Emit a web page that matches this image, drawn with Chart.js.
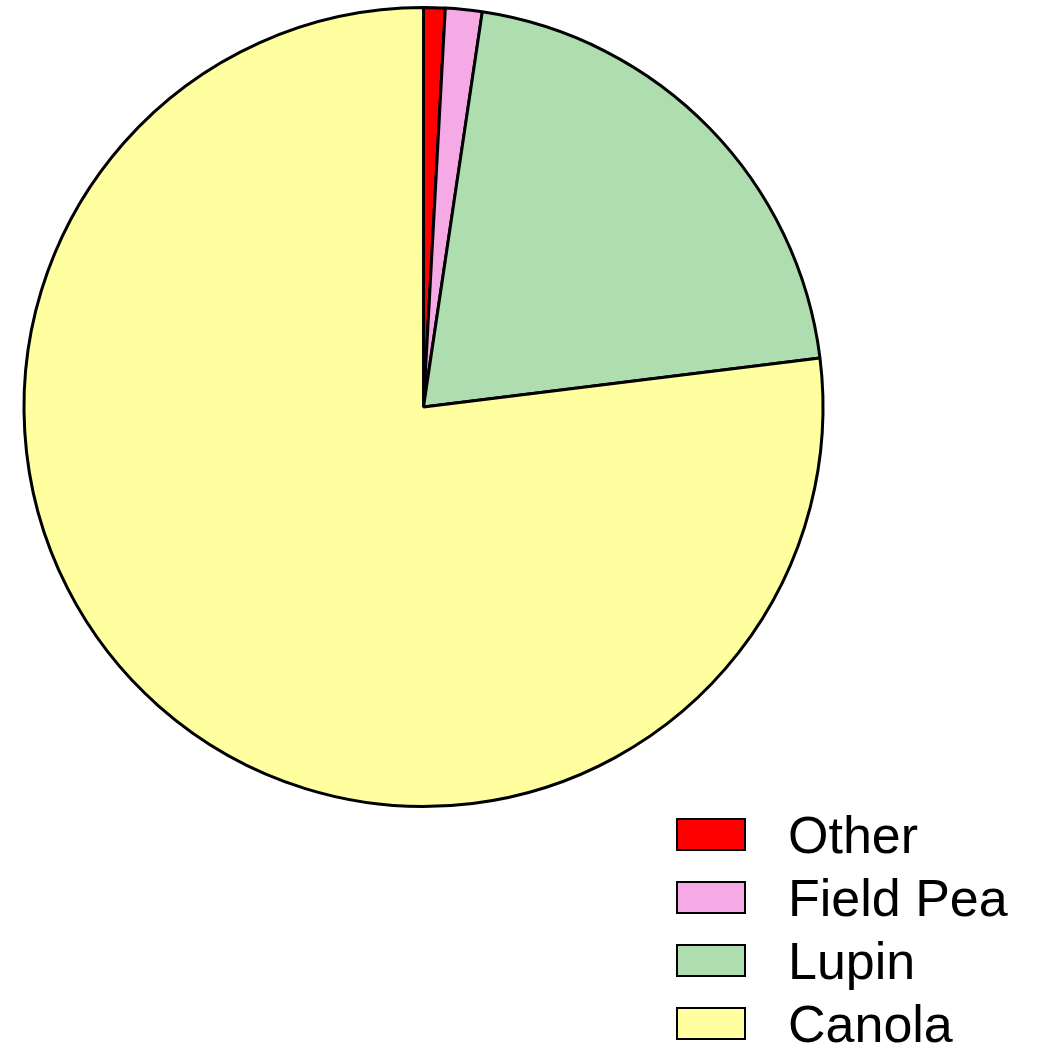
<!DOCTYPE html>
<html>
<head>
<meta charset="utf-8">
<script src="https://cdn.jsdelivr.net/npm/chart.js@4/dist/chart.umd.min.js"></script>
<style>
  html, body { margin: 0; padding: 0; background: #fff; }
  #wrap { position: relative; width: 1041px; height: 1045px; }
  #legenda { position: absolute; left: 676px; top: 803px; font-family: Arial, "Liberation Sans", sans-serif; }
  .item { display: flex; align-items: center; height: 63px; }
  .caixa { width: 66px; height: 29px; border: 2.5px solid #000; margin-right: 42px; }
  .rotulo { font-size: 52px; color: #000; line-height: 1; }
</style>
</head>
<body>
<div id="wrap">
  <canvas id="grafico" width="1041" height="1045"></canvas>
  <div id="legenda"></div>
</div>
<script>
// culturas e participação (%)
const culturas = ['Other', 'Field Pea', 'Lupin', 'Canola'];
const percentuais = [0.87, 1.48, 20.69, 76.96];
const cores = ['#ff0000', '#f5aae6', '#aedeb0', '#ffffa0'];

document.addEventListener('DOMContentLoaded', function() {
    desenhaGrafico();
    montaLegenda();
});

function desenhaGrafico() {
    const ctx = document.getElementById('grafico');
    new Chart(ctx, {
        type: 'pie',
        data: {
            labels: culturas,
            datasets: [{
                data: percentuais,
                backgroundColor: cores,
                borderColor: '#000',
                borderWidth: 3,
                borderAlign: 'center'
            }]
        },
        options: {
            responsive: false,
            animation: false,
            layout: { padding: { left: 22, top: 6, right: 216, bottom: 237 } },
            plugins: {
                legend: { display: false },
                tooltip: { enabled: false }
            }
        }
    });
}

// legenda em HTML, montada a partir dos mesmos arrays
function montaLegenda() {
    const legenda = document.getElementById('legenda');
    culturas.forEach((nome, i) => {
        legenda.innerHTML += `
            <div class="item">
                <div class="caixa" style="background:${cores[i]}"></div>
                <span class="rotulo">${nome}</span>
            </div>`;
    });
}
</script>
</body>
</html>
